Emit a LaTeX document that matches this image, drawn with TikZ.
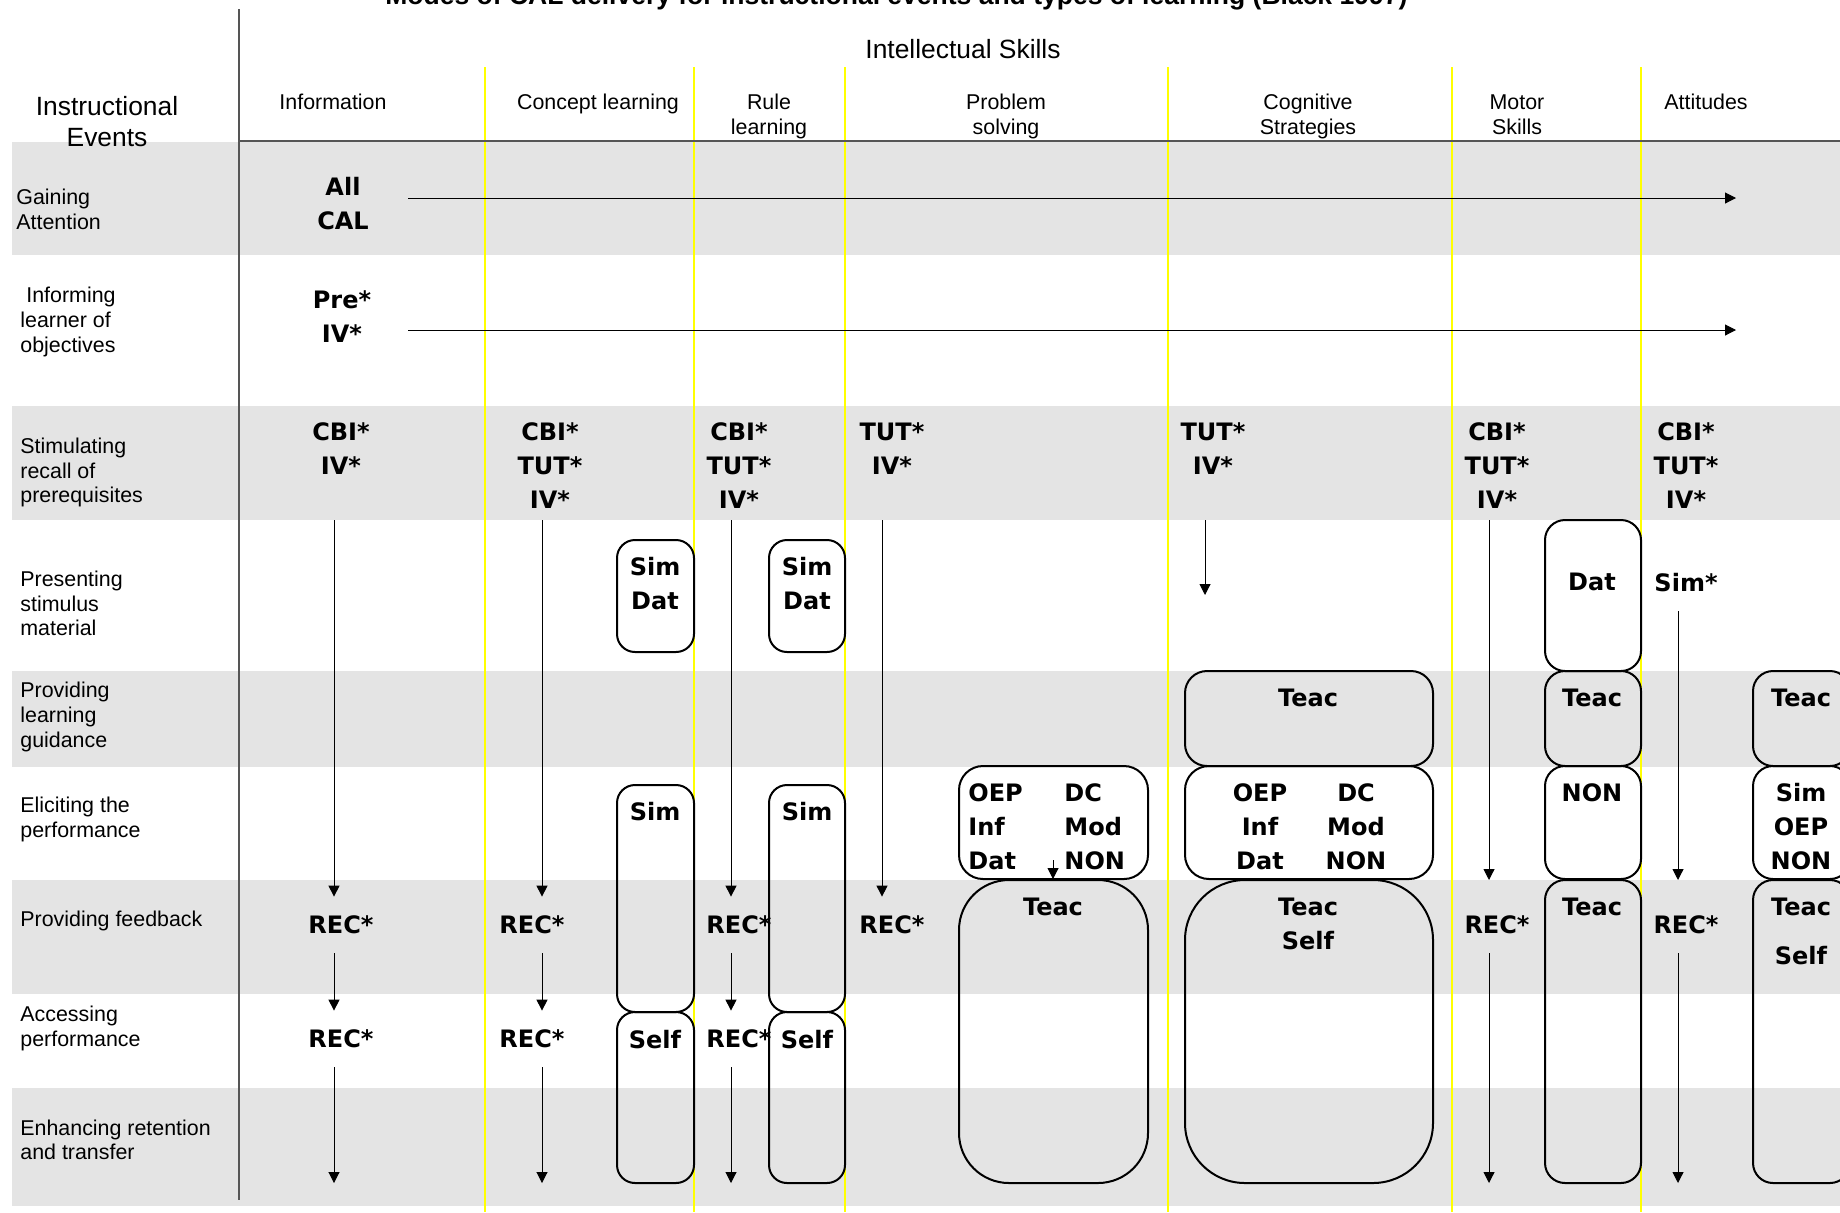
\documentclass[tikz,border=0pt]{standalone}
\usepackage{fontspec}
\setmainfont{Liberation Sans}
\newfontfamily\heavyfont{DejaVu Sans}
\usetikzlibrary{arrows.meta}

\definecolor{bandgrey}{RGB}{228,228,228}
\definecolor{skillyellow}{RGB}{255,255,0}
\definecolor{framegrey}{RGB}{85,85,85}

\begin{document}
\begin{tikzpicture}[
  x=0.5pt, y=-0.5pt,
  skill/.style={draw=skillyellow, line width=0.7pt},
  frame/.style={draw=framegrey, line width=0.7pt},
  bighead/.style={font=\fontsize{13.2}{15.8}\selectfont, align=center, inner sep=0pt},
  head/.style={font=\fontsize{10.7}{12.3}\selectfont, align=center, inner sep=0pt},
  event/.style={font=\fontsize{10.7}{12.3}\selectfont, align=left, anchor=west, inner sep=0pt},
  mode/.style={font={\heavyfont\bfseries\fontsize{12}{17}\selectfont}, align=center, inner sep=0pt},
  rec/.style={mode, minimum height=28pt},
  modebox/.style={draw, line width=1pt, rounded corners=#1},
  modebox/.default=9pt,
  arr/.style={line width=0.5pt, -{Triangle[length=5.5pt,width=5.5pt]}},
]
  \useasboundingbox (0,0) rectangle (1840,1212);
  \clip (0,0) rectangle (1840,1212);

  % row bands
  \foreach \ya/\yb in {142/255, 406/520, 671/767, 880/994, 1088/1206}
    \fill[bandgrey] (12,\ya) rectangle (1840,\yb);

  % skill columns
  \foreach \x in {485,694,845,1168,1452,1641}
    \draw[skill] (\x,67) -- (\x,1212);

  \draw[frame] (239,9) -- (239,1200);
  \draw[frame, line width=1pt] (239,141) -- (1840,141);

  % headings
  \node[anchor=base west, inner sep=0pt, font=\bfseries\fontsize{13.25}{15}\selectfont] (title) at (385,4)
    {Modes of CAL delivery for instructional events and types of learning (Black 1997)};
  \node[bighead] (intel) at (963,49) {Intellectual Skills};
  \node[bighead] (events) at (107,121.5) {Instructional\\Events};

  \node[head] (h-info) at (333,102) {Information};
  \node[head] (h-conc) at (598,104) {Concept learning};
  \node[head] (h-rule) at (769,116.5) {Rule\\learning};
  \node[head] (h-prob) at (1006,116.5) {Problem\\solving};
  \node[head] (h-cogn) at (1308,116.5) {Cognitive\\Strategies};
  \node[head] (h-motor) at (1517,114.5) {Motor\\Skills};
  \node[head] (h-att) at (1706,102) {Attitudes};

  % instructional events
  \node[event] (e-gain) at (16,209.5) {Gaining\\Attention};
  \node[event] (e-inform) at (20,322) {\hspace*{3pt}Informing\\learner of\\objectives};
  \node[event] (e-recall) at (20,472.5) {Stimulating\\recall of\\prerequisites};
  \node[event] (e-stim) at (20,603.5) {Presenting\\stimulus\\material};
  \node[event] (e-guide) at (20,717) {Providing\\learning\\guidance};
  \node[event] (e-elicit) at (20,819.5) {Eliciting the\\performance};
  \node[event] (e-fb) at (20,921) {Providing feedback};
  \node[event] (e-ap) at (20,1028.5) {Accessing\\performance};
  \node[event] (e-ret) at (20,1140) {Enhancing retention\\and transfer};

  % all columns
  \node[mode] (gain) at (343,204) {All\\CAL};
  \node[mode] (inform) at (342,316.5) {Pre*\\IV*};
  \coordinate (gain-s) at (408,198);
  \coordinate (gain-e) at (1736,198);
  \coordinate (inform-s) at (408,330);
  \coordinate (inform-e) at (1736,330);
  \draw[arr] (gain-s) -- (gain-e);
  \draw[arr] (inform-s) -- (inform-e);

  % recall of prerequisites
  \node[mode] (info-recall) at (341,449) {CBI*\\IV*};
  \node[mode] (conc-recall) at (550,466) {CBI*\\TUT*\\IV*};
  \node[mode] (rule-recall) at (739,466) {CBI*\\TUT*\\IV*};
  \node[mode] (prob-recall) at (892,449) {TUT*\\IV*};
  \node[mode] (cogn-recall) at (1213,449) {TUT*\\IV*};
  \node[mode] (motor-recall) at (1497,466) {CBI*\\TUT*\\IV*};
  \node[mode] (att-recall) at (1686,466) {CBI*\\TUT*\\IV*};

  % feedback and performance
  \node[rec] (info-fb) at (341,925) {REC*};
  \node[rec] (info-ap) at (341,1039) {REC*};
  \node[rec] (conc-fb) at (532,925) {REC*};
  \node[rec] (conc-ap) at (532,1039) {REC*};
  \node[rec] (rule-fb) at (739,925) {REC*};
  \node[rec] (rule-ap) at (739,1039) {REC*};
  \node[rec] (prob-fb) at (892,925) {REC*};
  \node[rec] (motor-fb) at (1497,925) {REC*};
  \node[rec] (att-fb) at (1686,925) {REC*};
  \node[rec] (att-sim) at (1686,583) {Sim*};

  \coordinate (bottom) at (0,1183);
  \coordinate (info-a) at (334,520);
  \coordinate (conc-a) at (542,520);
  \coordinate (rule-a) at (731,520);
  \coordinate (prob-a) at (882,520);
  \coordinate (cogn-a) at (1205,520);
  \coordinate (cogn-b) at (1205,595);
  \coordinate (motor-a) at (1489,520);
  \coordinate (motor-b) at (1489,880);
  \coordinate (att-b) at (1678,880);

  \foreach \c in {info,conc,rule}{
    \draw[arr] (\c-a) -- (\c-a |- \c-fb.north);
    \draw[arr] (\c-a |- \c-fb.south) -- (\c-a |- \c-ap.north);
    \draw[arr] (\c-a |- \c-ap.south) -- (\c-a |- bottom);
  }
  \draw[arr] (prob-a) -- (prob-a |- prob-fb.north);
  \draw[arr] (cogn-a) -- (cogn-b);
  \draw[arr] (motor-a) -- (motor-b);
  \draw[arr] (motor-a |- motor-fb.south) -- (motor-a |- bottom);
  \draw[arr] (att-b |- att-sim.south) -- (att-b);
  \draw[arr] (att-b |- att-fb.south) -- (att-b |- bottom);

  % concept and rule learning
  \draw[modebox] (617,540) rectangle (694,652);
  \draw[modebox] (769,540) rectangle (845,652);
  \draw[modebox] (617,785) rectangle (694,1012);
  \draw[modebox] (617,1012) rectangle (694,1183);
  \draw[modebox] (769,785) rectangle (845,1012);
  \draw[modebox] (769,1012) rectangle (845,1183);
  \node[mode] (conc-stim) at (655,583.5) {Sim\\Dat};
  \node[mode] (rule-stim) at (807,583.5) {Sim\\Dat};
  \node[mode] (conc-elicit) at (655,812) {Sim};
  \node[mode] (conc-self) at (655,1040) {Self};
  \node[mode] (rule-elicit) at (807,812) {Sim};
  \node[mode] (rule-self) at (807,1040) {Self};

  % problem solving
  \draw[modebox=12pt] (959,766) rectangle (1148,879);
  \draw[modebox=25pt] (959,880) rectangle (1148,1183);
  \node[mode, align=left, anchor=west] (prob-elicit-l) at (968,827) {OEP\\Inf\\Dat};
  \node[mode, align=left, anchor=west] (prob-elicit-r) at (1064,827) {DC\\Mod\\NON};
  \node[mode] (prob-teac) at (1053,907) {Teac};
  \coordinate (prob-c) at (1053,860);
  \coordinate (prob-d) at (1053,879);
  \draw[arr] (prob-c) -- (prob-d);

  % cognitive strategies
  \draw[modebox=11pt] (1185,671) rectangle (1433,766);
  \draw[modebox=12pt] (1185,766) rectangle (1433,879);
  \draw[modebox=30pt] (1185,880) rectangle (1433,1183);
  \node[mode] (cogn-guide) at (1308,698) {Teac};
  \node[mode] (cogn-elicit-l) at (1260,827) {OEP\\Inf\\Dat};
  \node[mode] (cogn-elicit-r) at (1356,827) {DC\\Mod\\NON};
  \node[mode] (cogn-teac) at (1308,924) {Teac\\Self};

  % motor skills
  \draw[modebox=10pt] (1545,520) rectangle (1641,671);
  \draw[modebox=10pt] (1545,671) rectangle (1641,766);
  \draw[modebox=10pt] (1545,766) rectangle (1641,879);
  \draw[modebox=10pt] (1545,880) rectangle (1641,1183);
  \node[mode] (motor-stim) at (1592,582) {Dat};
  \node[mode] (motor-guide) at (1592,698) {Teac};
  \node[mode] (motor-elicit) at (1592,793) {NON};
  \node[mode] (motor-teac) at (1592,907) {Teac};

  % attitudes
  \draw[modebox=10pt] (1753,671) rectangle (1850,766);
  \draw[modebox=10pt] (1753,766) rectangle (1850,879);
  \draw[modebox=10pt] (1753,880) rectangle (1850,1183);
  \node[mode] (att-guide) at (1801,698) {Teac};
  \node[mode] (att-elicit) at (1801,827) {Sim\\OEP\\NON};
  \node[mode] (att-teac) at (1801,907) {Teac};
  \node[mode] (att-self) at (1801,956) {Self};
\end{tikzpicture}
\end{document}
